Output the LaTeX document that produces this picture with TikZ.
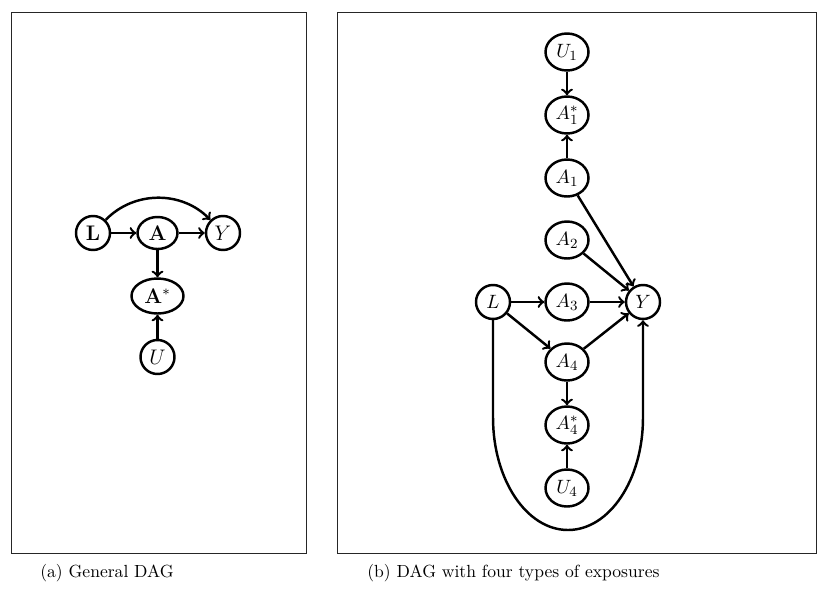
\documentclass[tikz,border=0pt]{standalone}
\usepackage{tikz}
\usetikzlibrary{shapes.geometric}
\tikzset{
	var/.style={draw, ellipse, line width=1.4pt, inner sep=1pt, minimum width=0.86cm, minimum height=0.74cm, font=\fontsize{11pt}{13pt}\selectfont},
	rvar/.style={draw, circle, line width=1.4pt, inner sep=0.5pt, minimum size=0.68cm, font=\fontsize{11pt}{13pt}\selectfont},
	edge/.style={->, line width=1.4pt},
	panel/.style={draw=black!85, line width=0.5pt},
	caption/.style={anchor=west, inner sep=0pt}
}

\begin{document}
\begin{tikzpicture}
			%%%%% START %%%%%
			\useasboundingbox (0, 0) rectangle (16.58, 11.82);
			
			\draw[panel] (0.22, 0.76) rectangle (6.12, 11.57);
			\draw[panel] (6.74, 0.76) rectangle (16.32, 11.57);
			
			%% (a)
			\node[rvar, font=\large] (aL) at (1.86, 7.16) {$\mathbf{L}$};
			\node[var, font=\large, minimum width=0.8cm, minimum height=0.64cm] (aA) at (3.15, 7.16) {$\mathbf{A}$};
			\node[rvar, font=\large] (aY) at (4.46, 7.16) {$Y$};
			\node[var, font=\large, minimum width=1.04cm, minimum height=0.7cm] (aAs) at (3.15, 5.90) {$\mathbf{A}^*$};
			\node[rvar, font=\large] (aU) at (3.15, 4.68) {$U$};
			
			\draw[edge] (aL) -- (aA);
			\draw[edge] (aA) -- (aY);
			\draw[edge] (aL) to[bend left=46] (aY);
			\draw[edge] (aA) -- (aAs);
			\draw[edge] (aU) -- (aAs);
			
			%% (b)
			\node[var] (U1) at (11.34, 10.78) {$U_1$};
			\node[var] (A1s) at (11.34, 9.52) {$A_1^*$};
			\node[var] (A1) at (11.34, 8.26) {$A_1$};
			\node[var] (A2) at (11.34, 7.02) {$A_2$};
			\node[rvar] (L) at (9.86, 5.78) {$L$};
			\node[var] (A3) at (11.34, 5.78) {$A_3$};
			\node[rvar] (Y) at (12.86, 5.78) {$Y$};
			\node[var] (A4) at (11.34, 4.58) {$A_4$};
			\node[var] (A4s) at (11.34, 3.32) {$A_4^*$};
			\node[var] (U4) at (11.34, 2.06) {$U_4$};
			
			\draw[edge] (U1) -- (A1s);
			\draw[edge] (A1) -- (A1s);
			\draw[edge] (A1) -- (Y);
			\draw[edge] (A2) -- (Y);
			\draw[edge] (L) -- (A3);
			\draw[edge] (A3) -- (Y);
			\draw[edge] (L) -- (A4);
			\draw[edge] (A4) -- (Y);
			\draw[edge] (A4) -- (A4s);
			\draw[edge] (U4) -- (A4s);
			\draw[edge] (L.south) -- (L.south |- 0, 3.47)
				arc[start angle=180, end angle=360, x radius=1.5, y radius=2.25] -- (Y.south);
			
			\node[caption] (capa) at (0.8, 0.36) {(a) General DAG};
			\node[caption] (capb) at (7.34, 0.36) {(b) DAG with four types of exposures};
			%%%%% END %%%%%
		\end{tikzpicture}
\end{document}
